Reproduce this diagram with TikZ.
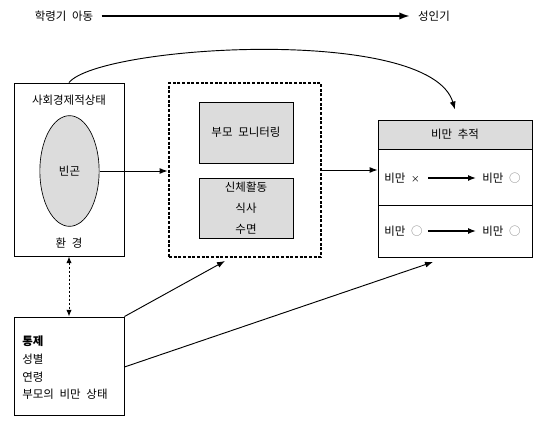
\documentclass[tikz,border=0pt]{standalone}
\usepackage{fontspec}
\setmainfont{Noto Sans CJK KR}
\usetikzlibrary{arrows.meta,fit,shapes.geometric}
\definecolor{boxgray}{HTML}{DCDCDC}
\newcommand{\wsp}{\hspace{0.5em}}
\begin{document}
\begin{tikzpicture}[x=0.75pt,y=-0.75pt,
  every node/.style={font=\fontsize{8.6}{10}\selectfont},
  frame/.style={draw,inner sep=0pt,line width=0.7pt},
  arr/.style={-{Latex[length=6pt,width=4.5pt]},line width=0.7pt},
  thickarr/.style={-{Latex[length=8pt,width=5.5pt]},line width=1.5pt},
  dotbox/.style={draw,inner sep=0pt,line width=2.2pt,dash pattern=on 2.2pt off 1.3pt},
  txt/.style={inner sep=0pt}
]
\useasboundingbox (0,0) rectangle (548,423);

% timeline
\node[txt] (child) at (64,16) {학령기\wsp 아동};
\node[txt] (adult) at (434,16) {성인기};
\draw[thickarr] (child.east) ++(8,0) coordinate (tl0) -- (tl0 -| 410,0);

% socioeconomic box
\node[frame,fit={(14,83)(124,256)}] (ses) {};
\node[txt] (sestitle) at (69,100) {사회경제적상태};
\node[draw,fill=boxgray,ellipse,line width=0.5pt,minimum width=44.5pt,minimum height=83pt,inner sep=0pt] (ell) at (69.5,171) {빈곤};
\node[txt] (env) at (69,243) {환\wsp 경};

% intervention dotted box
\node[dotbox,fit={(169,83)(321,257)}] (mid) {};
\node[frame,fill=boxgray,fit={(199,102)(293,163)}] (mon) {};
\node[txt] at (mon.center) {부모\wsp 모니터링};
\node[frame,fill=boxgray,fit={(199,178)(293,238)}] (act) {};
\node[txt,align=center,font=\fontsize{8.6}{15.5}\selectfont] at (act.center) {신체활동\\식사\\수면};

% obesity tracking box
\node[frame,fit={(378,120)(532,257)}] (track) {};
\node[frame,fill=boxgray,fit={(378,120)(532,149)}] (head) {};
\node[txt] at (head.center) {비만\wsp 추적};
\draw[line width=0.7pt] (378,205) coordinate (divl) -- (532,205) coordinate (divr);
\node[txt,anchor=west] (r1a) at (384,178) {비만\wsp{\fontsize{6.5}{8}\selectfont ×}};
\node[txt,anchor=west] (r1b) at (482,178) {비만\wsp{\color{gray}○}};
\node[txt,anchor=west] (r2a) at (384,231) {비만\wsp{\color{gray}○}};
\node[txt,anchor=west] (r2b) at (482,231) {비만\wsp{\color{gray}○}};
\draw[arr,line width=1pt] (r1a.east) ++(8,0) coordinate (r1s) -- (r1s -| 476,0);
\draw[arr,line width=1pt] (r2a.east) ++(5,0) coordinate (r2s) -- (r2s -| 476,0);

% control box
\node[frame,fit={(14,317)(124,415)}] (ctrl) {};
\node[txt,anchor=west] (c1) at (22,341) {\textbf{통제}};
\node[txt,anchor=west] (c2) at (22,359) {성별};
\node[txt,anchor=west] (c3) at (22,377) {연령};
\node[txt,anchor=west] (c4) at (22,394) {부모의\wsp 비만\wsp 상태};

% connectors
\draw[arr] (ell.east) -- (ell.east -| mid.west);
\draw[arr] (mid.east |- 0,170) -- (track.west |- 0,170);
\draw[arr] (ses.north) .. controls (100,45) and (430,25) .. ([yshift=7.5pt]head.north);
\draw[{Latex[length=5pt,width=4pt]}-{Latex[length=5pt,width=4pt]},line width=0.7pt,dash pattern=on 2pt off 1pt] (ses.south) -- (ctrl.north);
\coordinate (m1) at (225,261);
\coordinate (m2) at (433,262);
\draw[arr] (ctrl.north east) -- (m1);
\draw[arr] (ctrl.east |- 0,367) -- (m2);
\end{tikzpicture}
\end{document}
